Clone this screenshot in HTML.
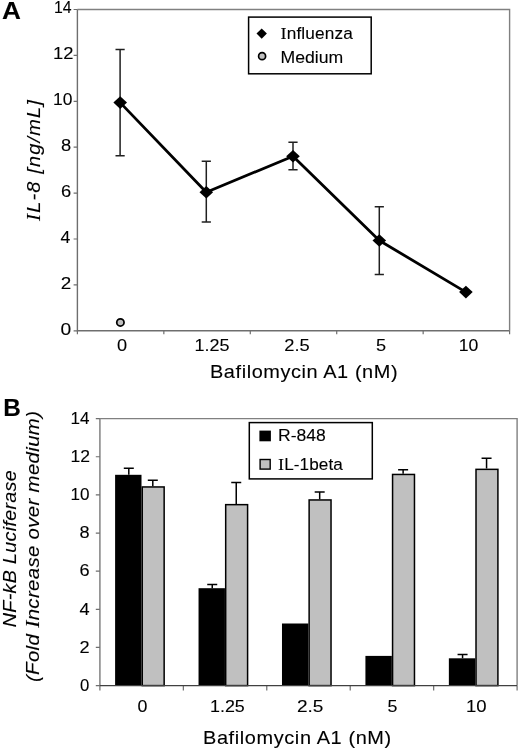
<!DOCTYPE html>
<html><head><meta charset="utf-8"><style>
html,body{margin:0;padding:0;background:#fff;}
body{width:520px;height:748px;overflow:hidden;}
svg{display:block;will-change:transform;}
text{font-family:"Liberation Sans", sans-serif;fill:#000;stroke:#000;stroke-width:0.1px;}
</style></head><body>
<svg width="520" height="748" viewBox="0 0 520 748">
<rect width="520" height="748" fill="#fff"/>
<path d="M77.4 9.5H509.6V330.8" fill="none" stroke="#808080" stroke-width="1.4"/>
<path d="M77.4 9.5V330.8H509.6" fill="none" stroke="#6e6e6e" stroke-width="1.4"/>
<path d="M73.6 330.80H77.4 M73.6 284.90H77.4 M73.6 239.00H77.4 M73.6 193.10H77.4 M73.6 147.20H77.4 M73.6 101.30H77.4 M73.6 55.40H77.4 M73.6 9.50H77.4 M77.40 330.8V334.3 M163.84 330.8V334.3 M250.28 330.8V334.3 M336.72 330.8V334.3 M423.16 330.8V334.3 M509.60 330.8V334.3" stroke="#6e6e6e" stroke-width="1.2" fill="none"/>
<text x="2" y="19.3" font-size="24.3" font-weight="bold" textLength="18.9" lengthAdjust="spacingAndGlyphs">A</text>
<path d="M120.1 49.6V155.7M115.5 49.6H124.69999999999999M115.5 155.7H124.69999999999999M206.3 161.2V221.9M201.70000000000002 161.2H210.9M201.70000000000002 221.9H210.9M293.0 142.3V169.8M288.4 142.3H297.6M288.4 169.8H297.6M379.3 206.7V274.5M374.7 206.7H383.90000000000003M374.7 274.5H383.90000000000003" stroke="#202020" stroke-width="1.5" fill="none"/>
<polyline points="120.2,102.6 206.3,192.2 293.0,156.2 379.3,240.5 465.9,292.1" fill="none" stroke="#000" stroke-width="2.8" stroke-linejoin="round"/>
<path d="M113.4 102.6L120.2 96.3L127.0 102.6L120.2 108.89999999999999Z" fill="#000"/>
<path d="M199.5 192.2L206.3 185.89999999999998L213.10000000000002 192.2L206.3 198.5Z" fill="#000"/>
<path d="M286.2 156.2L293.0 149.89999999999998L299.8 156.2L293.0 162.5Z" fill="#000"/>
<path d="M372.5 240.5L379.3 234.2L386.1 240.5L379.3 246.8Z" fill="#000"/>
<path d="M459.09999999999997 292.1L465.9 285.8L472.7 292.1L465.9 298.40000000000003Z" fill="#000"/>
<circle cx="120.4" cy="322.4" r="3.65" fill="#c0c0c0" stroke="#000" stroke-width="1.75"/>
<rect x="248.6" y="17.1" width="122.6" height="56.7" fill="#fff" stroke="#000" stroke-width="1.5"/>
<path d="M256.5 33.6L261.7 28.4L266.9 33.6L261.7 38.8Z" fill="#000"/>
<circle cx="262.1" cy="56.2" r="3.5" fill="#c0c0c0" stroke="#000" stroke-width="1.7"/>
<path d="M99.9 418.6H517.1V685.6" fill="none" stroke="#808080" stroke-width="1.4"/>
<path d="M99.9 418.6V685.6" fill="none" stroke="#8a8a8a" stroke-width="1.6"/>
<path d="M95.8 685.60H99.9 M95.8 647.46H99.9 M95.8 609.31H99.9 M95.8 571.17H99.9 M95.8 533.03H99.9 M95.8 494.89H99.9 M95.8 456.74H99.9 M95.8 418.60H99.9 M99.90 685.6V690.4 M183.34 685.6V690.4 M266.78 685.6V690.4 M350.22 685.6V690.4 M433.66 685.6V690.4 M517.10 685.6V690.4" stroke="#6e6e6e" stroke-width="1.2" fill="none"/>
<text x="3.3" y="416.3" font-size="24.5" font-weight="bold" textLength="17.6" lengthAdjust="spacingAndGlyphs">B</text>
<rect x="115.10" y="474.8" width="26.40" height="210.80" fill="#000"/>
<rect x="142.25" y="486.95" width="21.90" height="198.65" fill="#c0c0c0" stroke="#000" stroke-width="1.5"/>
<rect x="198.54" y="588.2" width="26.40" height="97.40" fill="#000"/>
<rect x="225.69" y="504.65" width="21.90" height="180.95" fill="#c0c0c0" stroke="#000" stroke-width="1.5"/>
<rect x="281.98" y="623.5" width="26.40" height="62.10" fill="#000"/>
<rect x="309.13" y="499.95" width="21.90" height="185.65" fill="#c0c0c0" stroke="#000" stroke-width="1.5"/>
<rect x="365.42" y="655.9" width="26.40" height="29.70" fill="#000"/>
<rect x="392.57" y="474.45" width="21.90" height="211.15" fill="#c0c0c0" stroke="#000" stroke-width="1.5"/>
<rect x="448.86" y="658.3" width="26.40" height="27.30" fill="#000"/>
<rect x="476.01" y="469.35" width="21.90" height="216.25" fill="#c0c0c0" stroke="#000" stroke-width="1.5"/>
<path d="M128.80 468.3V474.8M123.80 468.3H133.80M152.80 480.2V486.2M147.80 480.2H157.80M212.24 584.4V588.2M207.24 584.4H217.24M236.24 482.5V503.9M231.24 482.5H241.24M319.68 492.0V499.2M314.68 492.0H324.68M403.12 469.8V473.7M398.12 469.8H408.12M462.56 654.6V658.3M457.56 654.6H467.56M486.56 458.3V468.6M481.56 458.3H491.56" stroke="#000" stroke-width="1.5" fill="none"/>
<path d="M99.9 685.6H517.1" stroke="#404040" stroke-width="1.3"/>
<rect x="249.3" y="422.6" width="123" height="56.3" fill="#fff" stroke="#000" stroke-width="1.5"/>
<rect x="259.4" y="430.6" width="11.5" height="10.7" fill="#000"/>
<rect x="260.1" y="459.5" width="10.1" height="9.6" fill="#c0c0c0" stroke="#000" stroke-width="1.4"/>
<text x="60.50" y="334.7" font-size="16" textLength="10.70" lengthAdjust="spacingAndGlyphs">0</text>
<text x="60.70" y="288.8" font-size="16" textLength="10.50" lengthAdjust="spacingAndGlyphs">2</text>
<text x="60.40" y="242.9" font-size="16" textLength="9.80" lengthAdjust="spacingAndGlyphs">4</text>
<text x="61.00" y="197.0" font-size="16" textLength="10.20" lengthAdjust="spacingAndGlyphs">6</text>
<text x="61.00" y="151.1" font-size="16" textLength="10.20" lengthAdjust="spacingAndGlyphs">8</text>
<text x="53.00" y="105.2" font-size="16" textLength="19.40" lengthAdjust="spacingAndGlyphs">10</text>
<text x="53.00" y="59.3" font-size="16" textLength="20.40" lengthAdjust="spacingAndGlyphs">12</text>
<text x="54.00" y="13.4" font-size="16" textLength="17.60" lengthAdjust="spacingAndGlyphs">14</text>
<text x="117.00" y="351" font-size="16" textLength="10.10" lengthAdjust="spacingAndGlyphs">0</text>
<text x="194.50" y="351" font-size="16" textLength="34.94" lengthAdjust="spacingAndGlyphs">1.25</text>
<text x="284.25" y="351" font-size="16" textLength="25.44" lengthAdjust="spacingAndGlyphs">2.5</text>
<text x="376.00" y="351" font-size="16" textLength="10.10" lengthAdjust="spacingAndGlyphs">5</text>
<text x="458.75" y="351" font-size="16" textLength="19.60" lengthAdjust="spacingAndGlyphs">10</text>
<text transform="translate(210.00 378.4) scale(1.1399 1)" font-size="17.5" textLength="164.58" lengthAdjust="spacing">Bafilomycin A1 (nM)</text>
<text transform="translate(40.2 221.00) rotate(-90) scale(1.1400 1)" font-size="17.5" font-style="italic" textLength="105.95" lengthAdjust="spacing"><tspan style="font-family:&quot;Liberation Serif&quot;,serif" font-size="18.55">I</tspan>L-8 [ng/mL]</text>
<text transform="translate(280.50 38.8) scale(1.0785 1)" font-size="16" textLength="67.07" lengthAdjust="spacing"><tspan style="font-family:&quot;Liberation Serif&quot;,serif" font-size="16.96">I</tspan>nfluenza</text>
<text x="280.50" y="63.0" font-size="16" textLength="62.71" lengthAdjust="spacingAndGlyphs">Medium</text>
<text x="80.00" y="690.8" font-size="16" textLength="9.30" lengthAdjust="spacingAndGlyphs">0</text>
<text x="79.60" y="652.66" font-size="16" textLength="10.10" lengthAdjust="spacingAndGlyphs">2</text>
<text x="79.60" y="614.51" font-size="16" textLength="10.10" lengthAdjust="spacingAndGlyphs">4</text>
<text x="79.60" y="576.37" font-size="16" textLength="10.10" lengthAdjust="spacingAndGlyphs">6</text>
<text x="79.60" y="538.23" font-size="16" textLength="10.10" lengthAdjust="spacingAndGlyphs">8</text>
<text x="70.60" y="500.09" font-size="16" textLength="19.00" lengthAdjust="spacingAndGlyphs">10</text>
<text x="70.60" y="461.94" font-size="16" textLength="19.50" lengthAdjust="spacingAndGlyphs">12</text>
<text x="70.50" y="423.8" font-size="16" textLength="19.00" lengthAdjust="spacingAndGlyphs">14</text>
<text x="137.50" y="711.8" font-size="16" textLength="9.90" lengthAdjust="spacingAndGlyphs">0</text>
<text x="210.00" y="711.8" font-size="16" textLength="34.74" lengthAdjust="spacingAndGlyphs">1.25</text>
<text x="297.00" y="711.8" font-size="16" textLength="26.44" lengthAdjust="spacingAndGlyphs">2.5</text>
<text x="387.50" y="711.8" font-size="16" textLength="9.90" lengthAdjust="spacingAndGlyphs">5</text>
<text x="466.00" y="711.8" font-size="16" textLength="20.60" lengthAdjust="spacingAndGlyphs">10</text>
<text transform="translate(203.00 743.7) scale(1.1400 1)" font-size="17.5" textLength="165.09" lengthAdjust="spacing">Bafilomycin A1 (nM)</text>
<text transform="translate(16.1 627.20) rotate(-90) scale(1.0635 1)" font-size="18.6" font-style="italic" textLength="147.52" lengthAdjust="spacing">NF-kB Luciferase</text>
<text transform="translate(38.6 682.00) rotate(-90) scale(1.0958 1)" font-size="18.6" font-style="italic" textLength="247.26" lengthAdjust="spacing">(Fold <tspan style="font-family:&quot;Liberation Serif&quot;,serif" font-size="19.72">I</tspan>ncrease over medium)</text>
<text x="278.00" y="441.3" font-size="16" textLength="47.78" lengthAdjust="spacingAndGlyphs">R-848</text>
<text transform="translate(278.00 469.8) scale(1.0728 1)" font-size="16" textLength="60.51" lengthAdjust="spacing"><tspan style="font-family:&quot;Liberation Serif&quot;,serif" font-size="16.96">I</tspan>L-1beta</text>
</svg>
</body></html>
